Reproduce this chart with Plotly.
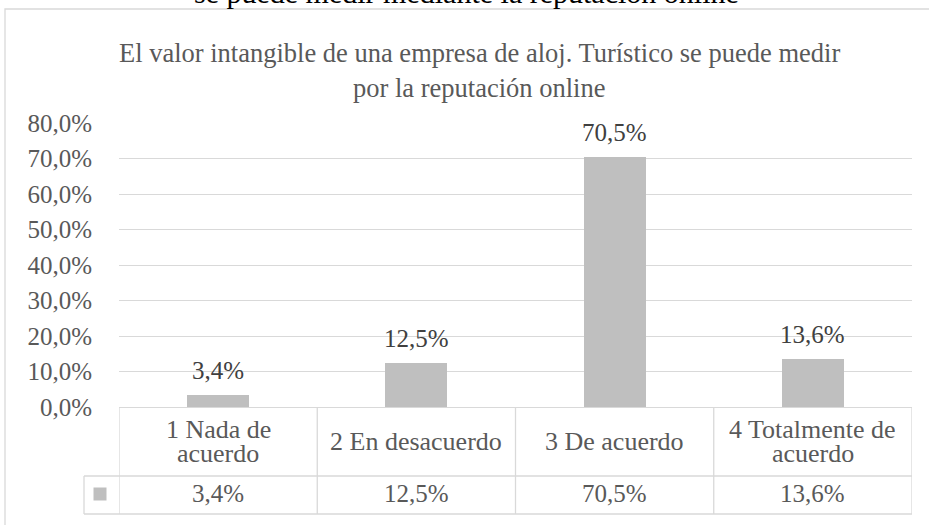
import plotly.graph_objects as go

# ---------------- data ----------------
categories = ["1 Nada de acuerdo", "2 En desacuerdo", "3 De acuerdo", "4 Totalmente de acuerdo"]
category_lines = [["1 Nada de", "acuerdo"], ["2 En desacuerdo"], ["3 De acuerdo"], ["4 Totalmente de", "acuerdo"]]
values = [3.4, 12.5, 70.5, 13.6]
y_ticks = [0, 10, 20, 30, 40, 50, 60, 70, 80]
title_lines = ["El valor intangible de una empresa de aloj. Turístico se puede medir",
               "por la reputación online"]
caption_text = "se puede medir mediante la reputación online"


def pct(v):
    return f"{v:.1f}".replace(".", ",") + "%"


# ---------------- layout helpers (pixel -> paper) ----------------
W, H = 929, 525
L, R, T, B = 119, 912, 123, 407


def px_x(p):
    return (p - L) / (R - L)


def px_y(p):
    return (B - p) / (B - T)


FONT = "Liberation Serif"
GRID = "#d9d9d9"
BAR = "#bfbfbf"
TXT = "#595959"
LBL = "#404040"

fig = go.Figure()
fig.add_trace(go.Bar(
    x=categories, y=values, marker=dict(color=BAR, line=dict(width=0)),
    width=0.313, hoverinfo="skip", showlegend=False,
))

annotations = []
# bar labels
for c, v in zip(categories, values):
    annotations.append(dict(x=c, y=v, xref="x", yref="y", text=pct(v), showarrow=False,
                            yanchor="middle", yshift=24.5,
                            font=dict(family=FONT, size=25, color=LBL)))
# title lines
for j, t in enumerate(title_lines):
    cy = [53, 88][j]
    annotations.append(dict(x=px_x(479), y=px_y(cy), xref="paper", yref="paper", text=t,
                            showarrow=False, xanchor="center", yanchor="middle",
                            font=dict(family=FONT, size=26.5, color=TXT)))
# cropped caption at very top
annotations.append(dict(x=px_x(466), y=px_y(-8), xref="paper", yref="paper", text=caption_text,
                        showarrow=False, xanchor="center", yanchor="middle",
                        font=dict(family=FONT, size=30, color="#000000")))
# table header (category names)
for c, lines in zip(categories, category_lines):
    n = len(lines)
    for j, ln in enumerate(lines):
        cy = 441 + (j - (n - 1) / 2) * 24
        ann = dict(x=c, y=px_y(cy), xref="x", yref="paper", text=ln,
                   showarrow=False, xanchor="center", yanchor="middle",
                   font=dict(family=FONT, size=26, color=TXT))
        if n > 1:
            ann["height"] = 24
        annotations.append(ann)
# table value row
for c, v in zip(categories, values):
    annotations.append(dict(x=c, y=px_y(493), xref="x", yref="paper", text=pct(v),
                            showarrow=False, xanchor="center", yanchor="middle",
                            font=dict(family=FONT, size=25, color=TXT)))

shapes = []
# outer chart border
shapes.append(dict(type="rect", xref="paper", yref="paper", x0=px_x(5), x1=px_x(960),
                   y0=px_y(560), y1=px_y(9), line=dict(color=GRID, width=1.3), layer="below"))
# table horizontal lines
for py in (476, 514):
    shapes.append(dict(type="line", xref="paper", yref="paper", x0=px_x(84), x1=1,
                       y0=px_y(py), y1=px_y(py), line=dict(color=GRID, width=1.3)))
# table vertical lines
for i in range(len(categories) + 1):
    shapes.append(dict(type="line", xref="x", yref="paper", x0=i - 0.5, x1=i - 0.5,
                       y0=px_y(407), y1=px_y(514), line=dict(color=GRID, width=1.3)))
shapes.append(dict(type="line", xref="paper", yref="paper", x0=px_x(84), x1=px_x(84),
                   y0=px_y(476), y1=px_y(514), line=dict(color=GRID, width=1.3)))
# legend key
shapes.append(dict(type="rect", xref="paper", yref="paper", x0=px_x(93.5), x1=px_x(106.5),
                   y0=px_y(500.5), y1=px_y(487.5), fillcolor=BAR, line=dict(width=0)))

fig.update_layout(
    width=W, height=H,
    margin=dict(l=L, r=W - R, t=T, b=H - B, pad=0),
    paper_bgcolor="white", plot_bgcolor="white",
    bargap=0,
    annotations=annotations, shapes=shapes,
    xaxis=dict(type="category", range=[-0.5, len(categories) - 0.5], showticklabels=False,
               showgrid=False, zeroline=False, showline=True, linecolor=GRID, linewidth=1.3,
               fixedrange=True),
    yaxis=dict(range=[0, 80], tickvals=y_ticks, ticktext=[pct(v) for v in y_ticks],
               showgrid=True, gridcolor=GRID, gridwidth=1.3, zeroline=False, showline=False,
               ticks="", ticklabelstandoff=26,
               tickfont=dict(family=FONT, size=25, color=TXT), fixedrange=True),
    font=dict(family=FONT, color=TXT),
    showlegend=False,
)

fig.write_html("out.html", config={"displayModeBar": False})
